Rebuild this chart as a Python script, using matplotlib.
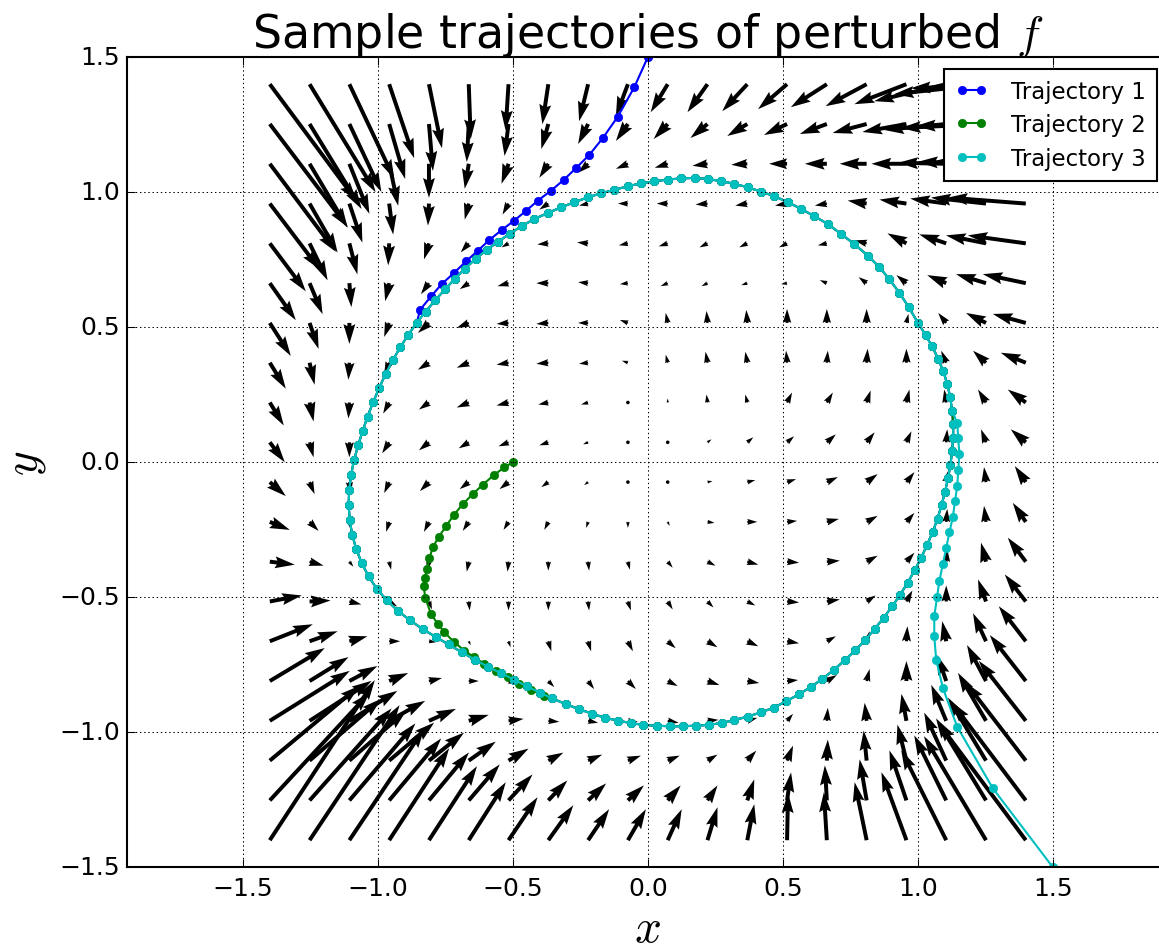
import numpy as np
import matplotlib
matplotlib.use("Agg")
import matplotlib.pyplot as plt

plt.style.use("classic")

# sample points of the vector field
grid_x = np.linspace(-1.4, 1.4, 20)
grid_y = np.linspace(1.4, -1.4, 20)

# arrow components (rows from y=1.4 down to y=-1.4)
field_u = [
    [87, 66, 45, 25, 13, 2, -3, -6, -9, -12, -17, -20, -25, -29, -36, -41, -52, -72, -92, -115],
    [78, 52, 32, 16, 4, -2, -4, -7, -10, -12, -14, -17, -20, -23, -27, -34, -44, -62, -85, -110],
    [66, 38, 20, 9, 0, -4, -7, -9, -10, -12, -13, -15, -16, -18, -22, -27, -35, -48, -68, -90],
    [50, 28, 13, 4, -1, -4, -6, -9, -9, -10, -11, -12, -12, -12, -12, -19, -27, -36, -55, -78],
    [36, 18, 8, -1, -5, -8, -7, -11, -11, -9, -9, -8, -8, -8, -9, -12, -19, -27, -40, -58],
    [26, 13, 2, -4, -8, -9, -11, -12, -10, -8, -7, -6, -6, -6, -7, -8, -10, -19, -30, -43],
    [21, 9, 0, -5, -11, -12, -12, -12, -10, -8, -2, -1, -1, 0, 0, 0, 2, -8, -20, -33],
    [16, 5, -1, -5, -11, -12, -12, -12, -9, -6, -2, -2, -2, -1, 1, 1, 0, -5, -13, -25],
    [14, 4, -1, -6, -10, -12, -12, -10, -7, -3, 0, -1, -2, 5, 6, 4, 3, -2, -8, -18],
    [15, 4, 0, -7, -10, -10, -10, -9, -5, 0.5, 0.5, 4, 6, 7, 9, 8, 5, 1, -5, -15],
    [16, 5, 1, -5, -9, -9, -9, -7, -4, 0.5, 0.5, 5, 8, 9, 11, 11, 8, 3, -2, -11],
    [20, 9, 2, -3, -5, -6, -5, -4, -2, 0, 2, 7, 10, 10, 12, 11, 8, 1, -2, -13],
    [25, 14, 4, 2, -2, -2, -1, 0, 1, 2, 5, 8, 11, 12, 13, 11, 8, 1, -5, -18],
    [32, 21, 12, 8, 3, 1, 0, 0, 1, 3, 5, 6, 8, 12, 13, 9, 6, 0, -8, -21],
    [43, 28, 18, 11, 7, 2, 2, 3, 3, 5, 8, 10, 11, 12, 9, 3, 1, -4, -13, -27],
    [55, 39, 28, 19, 13, 10, 8, 6, 6, 8, 10, 12, 12, 11, 10, 3, 0, -9, -19, -36],
    [80, 62, 48, 36, 27, 20, 15, 11, 10, 10, 11, 11, 10, 6, 1, -2, -5, -15, -28, -47],
    [90, 72, 57, 45, 35, 27, 20, 15, 14, 13, 12, 10, 9, 6, 1, -3, -9, -22, -38, -60],
    [100, 82, 66, 52, 40, 31, 24, 19, 18, 16, 13, 10, 7, 4, -2, -7, -17, -32, -50, -74],
    [105, 90, 75, 60, 48, 37, 29, 25, 21, 18, 14, 10, 7, 1, -3, -12, -25, -45, -62, -88],
]
field_v = [
    [-117, -108, -95, -74, -64, -55, -46, -40, -37, -32, -28, -28, -27, -25, -23, -22, -20, -17, -10, -4],
    [-103, -85, -68, -55, -47, -38, -32, -25, -20, -17, -15, -14, -12, -11, -10, -9, -8, -6, -4, -2],
    [-88, -64, -50, -42, -34, -25, -20, -14, -9, -5, -4, -2, -1, 0, 0, 0, 0, 1, 2, 3],
    [-66, -49, -39, -31, -22, -16, -11, -6, -2, 0, 0, -1, -2, -2, -2, 3, 4, 5, 6, 6],
    [-48, -37, -31, -22, -16, -9, -4, -1, 1, -2, -3, -4, -4, -4, -2, 3, 10, 9, 8, 8],
    [-37, -31, -24, -18, -11, -6, -3, 0, 1, -1, -3, -3, -2, -1, 3, 6, 8, 8, 9, 9],
    [-33, -26, -21, -14, -10, -5, -1, -1, 0, 3, 10, 12, 13, 14, 14, 14, 9, 10, 10, 9],
    [-26, -22, -17, -12, -7, -5, -2, -1, -1, 2, 8, 11, 11, 12, 12, 14, 14, 12, 12, 10],
    [-23, -19, -16, -11, -7, -5, -3, -2, -2, 0, 4, 8, 8, 10, 10, 12, 13, 13, 13, 13],
    [-20, -15, -15, -11, -8, -6, -4, -3, -2, 0.5, 0.5, 3, 5, 6, 8, 10, 11, 13, 13, 13],
    [-14, -12, -12, -11, -9, -7, -7, -5, -3, -0.5, -0.5, 1, 2, 3, 5, 8, 10, 13, 15, 16],
    [-8, -9, -8, -10, -10, -9, -8, -8, -6, -6, -4, -1, 0, 1, 3, 6, 9, 13, 16, 19],
    [-3, -4, -5, -8, -9, -10, -10, -9, -9, -8, -6, -4, -3, -1, 1, 6, 9, 13, 19, 24],
    [6, 1, -3, -5, -8, -9, -9, -9, -9, -9, -8, -6, -4, -1, 2, 6, 11, 16, 22, 27],
    [17, 10, 5, 0, -1, -4, -6, -10, -10, -10, -7, -6, -5, -2, 5, 10, 15, 20, 28, 35],
    [33, 24, 15, 8, 3, 0, -3, -6, -8, -8, -5, -4, -2, 1, 6, 12, 20, 26, 36, 46],
    [50, 40, 30, 20, 12, 6, 2, -1, -2, -1, -2, 1, 3, 7, 13, 18, 27, 36, 48, 60],
    [75, 62, 50, 38, 28, 19, 12, 8, 6, 5, 5, 6, 10, 15, 21, 30, 36, 48, 63, 78],
    [108, 92, 77, 62, 48, 36, 26, 20, 17, 15, 15, 15, 21, 28, 35, 41, 50, 65, 82, 98],
    [160, 135, 112, 92, 74, 58, 43, 35, 31, 31, 31, 33, 36, 47, 48, 58, 68, 90, 104, 118],
]

# limit cycle, counter-clockwise from the top
cycle_x = [
    0.173, 0.123, 0.074, 0.024, -0.025, -0.074, -0.124, -0.173, -0.222, -0.272,
    -0.321, -0.370, -0.420, -0.466, -0.510, -0.554, -0.597, -0.638, -0.677, -0.714,
    -0.751, -0.788, -0.823, -0.856, -0.888, -0.917, -0.945, -0.971, -0.995, -1.017,
    -1.038, -1.056, -1.073, -1.088, -1.099, -1.106, -1.108, -1.104, -1.095, -1.080,
    -1.060, -1.034, -1.003, -0.966, -0.925, -0.880, -0.834, -0.786, -0.738, -0.690,
    -0.641, -0.593, -0.545, -0.497, -0.449, -0.401, -0.353, -0.304, -0.256, -0.208,
    -0.160, -0.112, -0.064, -0.016, 0.033, 0.081, 0.129, 0.177, 0.225, 0.273,
    0.321, 0.370, 0.418, 0.466, 0.512, 0.559, 0.603, 0.646, 0.688, 0.729,
    0.768, 0.805, 0.840, 0.873, 0.905, 0.934, 0.962, 0.988, 1.012, 1.034,
    1.055, 1.073, 1.088, 1.101, 1.112, 1.121, 1.127, 1.131, 1.131, 1.127,
    1.120, 1.109, 1.094, 1.075, 1.053, 1.029, 1.000, 0.966, 0.932, 0.895,
    0.858, 0.815, 0.765, 0.716, 0.667, 0.617, 0.568, 0.519, 0.469, 0.420,
    0.370, 0.321, 0.271, 0.222,
]
cycle_y = [
    1.053, 1.051, 1.047, 1.040, 1.033, 1.022, 1.009, 0.996, 0.981, 0.963,
    0.944, 0.923, 0.901, 0.875, 0.847, 0.817, 0.786, 0.753, 0.717, 0.680,
    0.640, 0.599, 0.558, 0.516, 0.471, 0.425, 0.377, 0.327, 0.275, 0.223,
    0.169, 0.116, 0.062, 0.008, -0.047, -0.103, -0.159, -0.214, -0.268, -0.321,
    -0.373, -0.423, -0.470, -0.512, -0.551, -0.586, -0.618, -0.647, -0.675, -0.703,
    -0.731, -0.757, -0.781, -0.805, -0.829, -0.853, -0.875, -0.896, -0.914, -0.931,
    -0.946, -0.957, -0.966, -0.973, -0.976, -0.978, -0.978, -0.976, -0.973, -0.966,
    -0.955, -0.942, -0.927, -0.909, -0.886, -0.860, -0.833, -0.803, -0.770, -0.734,
    -0.697, -0.659, -0.618, -0.577, -0.534, -0.492, -0.447, -0.401, -0.355, -0.307,
    -0.259, -0.209, -0.159, -0.109, -0.059, -0.009, 0.041, 0.091, 0.141, 0.191,
    0.241, 0.290, 0.338, 0.384, 0.429, 0.471, 0.517, 0.575, 0.627, 0.677,
    0.722, 0.765, 0.808, 0.845, 0.882, 0.911, 0.938, 0.963, 0.985, 1.002,
    1.018, 1.031, 1.041, 1.049,
]

# parts of each trajectory before it joins the cycle
start1_x = [0.0, -0.050, -0.111, -0.167, -0.216, -0.266, -0.311, -0.358, -0.407, -0.451,
            -0.496, -0.541, -0.587, -0.630, -0.673, -0.719, -0.763, -0.803, -0.843]
start1_y = [1.5, 1.389, 1.280, 1.200, 1.139, 1.089, 1.046, 1.006, 0.969, 0.931,
            0.894, 0.860, 0.823, 0.783, 0.744, 0.700, 0.660, 0.614, 0.565]
start2_x = [-0.5, -0.531, -0.568, -0.611, -0.648, -0.685, -0.719, -0.747, -0.774, -0.796,
            -0.809, -0.817, -0.827, -0.830, -0.824, -0.803, -0.778, -0.753, -0.719, -0.679,
            -0.642, -0.605, -0.562, -0.519, -0.476, -0.432, -0.383]
start2_y = [0.0, -0.019, -0.046, -0.083, -0.118, -0.155, -0.196, -0.237, -0.276, -0.315,
            -0.356, -0.396, -0.430, -0.460, -0.503, -0.562, -0.599, -0.630, -0.665, -0.698,
            -0.723, -0.747, -0.772, -0.797, -0.821, -0.843, -0.865]
start3_x = [1.5, 1.278, 1.146, 1.093, 1.068, 1.061, 1.061, 1.071, 1.080, 1.093,
            1.105, 1.117, 1.130, 1.138, 1.146, 1.150, 1.154, 1.150, 1.146]
start3_y = [-1.5, -1.208, -0.980, -0.837, -0.731, -0.645, -0.571, -0.500, -0.439, -0.377,
            -0.319, -0.260, -0.202, -0.143, -0.087, -0.029, 0.030, 0.089, 0.145]

traj1_x = start1_x + cycle_x[23:] + cycle_x[:23]
traj1_y = start1_y + cycle_y[23:] + cycle_y[:23]
traj2_x = start2_x + cycle_x[56:] + cycle_x[:56]
traj2_y = start2_y + cycle_y[56:] + cycle_y[:56]
traj3_x = start3_x + cycle_x[99:] + cycle_x[:99]
traj3_y = start3_y + cycle_y[99:] + cycle_y[:99]

fig = plt.figure(figsize=(11.59, 9.53), dpi=100, facecolor="white")
ax = fig.add_axes([126.7 / 1159, 1 - 868.2 / 953, 1042.2 / 1159, 810 / 953])

X, Y = np.meshgrid(grid_x, grid_y)
ax.quiver(X, Y, np.array(field_u), np.array(field_v), angles="xy",
          scale_units="xy", scale=270, width=0.0038, color="k", zorder=1)

ax.plot(traj1_x, traj1_y, "-o", color="b", mec="b", lw=1.5, ms=6, label="Trajectory 1")
ax.plot(traj2_x, traj2_y, "-o", color="g", mec="g", lw=1.5, ms=6, label="Trajectory 2")
ax.plot(traj3_x, traj3_y, "-o", color="c", mec="c", lw=1.5, ms=6, label="Trajectory 3")

ax.set_xlim(-1.93, 1.93)
ax.set_ylim(-1.5, 1.5)
ax.set_xticks([-1.5, -1.0, -0.5, 0.0, 0.5, 1.0, 1.5])
ax.set_yticks([-1.5, -1.0, -0.5, 0.0, 0.5, 1.0, 1.5])
ax.tick_params(labelsize=18, length=6, width=0.75, direction="in")
ax.tick_params(axis="x", pad=6)
ax.tick_params(axis="y", pad=5)
for spine in ax.spines.values():
    spine.set_linewidth(1.5)
ax.grid(True, color="k", linestyle=(0, (1, 2)), linewidth=0.75)

ax.set_title("Sample trajectories of perturbed $f$", fontsize=33, pad=7)
ax.set_xlabel("$x$", fontsize=34, labelpad=5)
ax.set_ylabel("$y$", fontsize=34, labelpad=8)

leg = ax.legend(loc="upper right", numpoints=2, fontsize=16.5, handlelength=1.45,
                handletextpad=1.0, labelspacing=0.45, borderpad=0.5,
                borderaxespad=0.5, fancybox=False)
leg.get_frame().set_linewidth(1.5)
leg.get_frame().set_edgecolor("k")

fig.savefig("out.png", dpi=100, facecolor="white")
